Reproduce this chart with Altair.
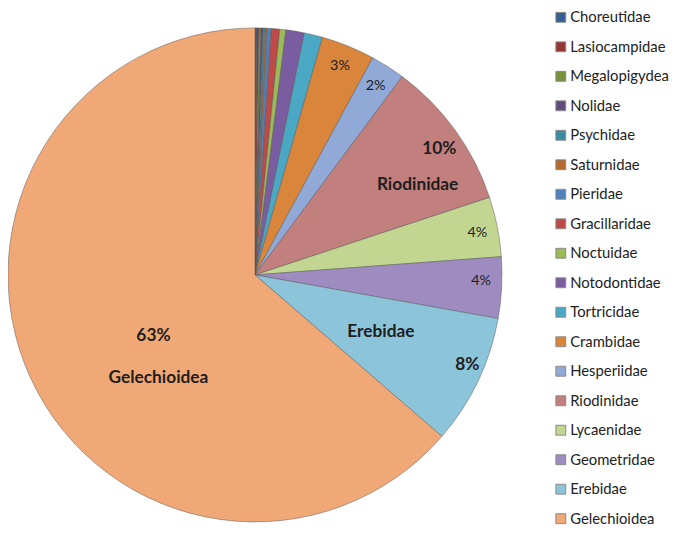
import altair as alt
import pandas as pd
import numpy as np

# ---- data ----
categories = ["Choreutidae", "Lasiocampidae", "Megalopigydea", "Nolidae", "Psychidae",
              "Saturnidae", "Pieridae", "Gracillaridae", "Noctuidae", "Notodontidae",
              "Tortricidae", "Crambidae", "Hesperiidae", "Riodinidae", "Lycaenidae",
              "Geometridae", "Erebidae", "Gelechioidea"]
values = [0.13, 0.13, 0.13, 0.13, 0.13, 0.13, 0.27, 0.55, 0.4, 1.2,
          1.2, 3.5, 2.25, 9.75, 3.9, 4.0, 8.5, 63.6]
colors = ["#376092", "#953735", "#76923C", "#5E4B7C", "#3A8CA2", "#B46A2C",
          "#4F81BD", "#BE4B48", "#9BBB59", "#7A5DA0", "#4BA8C4", "#D9853B",
          "#91A9D6", "#C17F7E", "#C2D591", "#9E8CC1", "#8CC4DA", "#F0A877"]

label_cats = ["Crambidae", "Hesperiidae", "Riodinidae", "Riodinidae", "Lycaenidae",
              "Geometridae", "Erebidae", "Erebidae", "Gelechioidea", "Gelechioidea"]
label_texts = ["3%", "2%", "10%", "Riodinidae", "4%", "4%", "Erebidae", "8%", "63%", "Gelechioidea"]
label_bold = [False, False, True, True, False, False, True, True, True, True]

# label placement (angle offset from slice middle, radius fraction)
label_dangle = [0, 0, 1.5, 6.8, 0.5, -1.4, -1.0, -2.6, -6.3, -22.3]
label_rfrac = [0.912, 0.908, 0.904, 0.753, 0.916, 0.916, 0.56, 0.933, 0.479, 0.572]

CX, CY, R = 250, 267, 250

df = pd.DataFrame({"family": categories, "value": values, "order": list(range(len(categories)))})
vals = np.array(values, dtype=float)
total = vals.sum()
cum = np.cumsum(vals)
start = (cum - vals) / total * 360
end = cum / total * 360
mid = dict(zip(categories, (start + end) / 2))

rows = []
for c, t, b, da, rf in zip(label_cats, label_texts, label_bold, label_dangle, label_rfrac):
    a = np.radians(mid[c] + da)
    rows.append({"text": t, "bold": b,
                 "px": CX + rf * R * np.sin(a), "py": CY - rf * R * np.cos(a)})
lab = pd.DataFrame(rows)

pie = alt.Chart(df).mark_arc(outerRadius=R, stroke="#555555", strokeWidth=0.8,
                             strokeOpacity=0.6).encode(
    theta=alt.Theta("value:Q", stack=True),
    order=alt.Order("order:Q", sort="ascending"),
    color=alt.Color("family:N", scale=alt.Scale(domain=categories, range=colors),
                    legend=alt.Legend(title=None, orient="none", legendX=552, legendY=-1.2,
                                      symbolType="square", symbolSize=100,
                                      symbolStrokeColor="#8a8a8a", symbolStrokeWidth=1,
                                      symbolOpacity=1,
                                      labelFont="Lato", labelFontSize=15, labelColor="#222222",
                                      rowPadding=13.85, padding=0, labelOffset=2,
                                      labelLimit=300)),
    x=alt.value(CX), y=alt.value(CY),
)

txt_norm = alt.Chart(lab[~lab["bold"]]).mark_text(font="Lato", fontSize=14.5, color="#1e1e1e").encode(
    x=alt.X("px:Q", scale=None), y=alt.Y("py:Q", scale=None), text="text:N")
txt_bold = alt.Chart(lab[lab["bold"]]).mark_text(font="Lato", fontSize=17.5, fontWeight="bold",
                                                 color="#1e1e1e").encode(
    x=alt.X("px:Q", scale=None), y=alt.Y("py:Q", scale=None), text="text:N")

chart = alt.layer(pie, txt_norm, txt_bold).properties(
    width=669, height=519, autosize="none", padding=0, background="white"
).configure_view(stroke=None)

chart.save("out.html", embed_options={"renderer": "svg", "actions": False})
